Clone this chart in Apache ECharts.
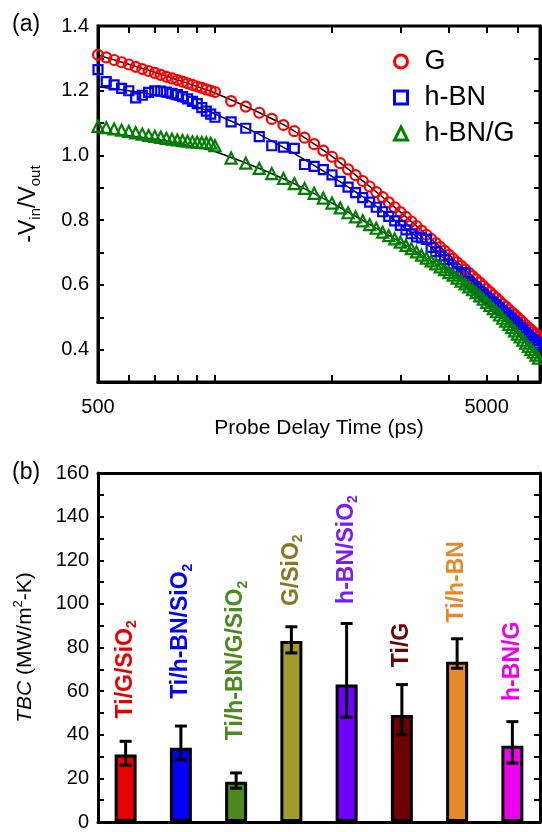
<!DOCTYPE html>
<html>
<head>
<meta charset="utf-8">
<script src="https://cdn.jsdelivr.net/npm/echarts@6/dist/echarts.min.js"></script>
<style>
  html, body { margin: 0; padding: 0; background: #fff; }
  #chart { width: 542px; height: 832px; }
</style>
</head>
<body>
<div id="chart"></div>
<script>
// ---------- Panel (a): -Vin/Vout against probe delay ----------
const probeTimes = [
  500, 525, 550, 575, 600, 625, 650, 675, 700, 725, 750, 775, 800, 825, 850, 875, 900, 925, 950, 975, 1000,
  1100, 1200, 1300, 1400, 1500, 1600, 1700, 1800, 1900, 2000,
  2100, 2200, 2300, 2400, 2500, 2600, 2700, 2800, 2900, 3000,
  3100, 3200, 3300, 3400, 3500, 3600, 3700, 3800, 3900, 4000,
  4100, 4200, 4300, 4400, 4500, 4600, 4700, 4800, 4900, 5000,
  5100, 5200, 5300, 5400, 5500, 5600, 5700, 5800, 5900, 6000,
  6100, 6200, 6300, 6400, 6500, 6600, 6700, 6800
];
const ratioG = [
  1.311, 1.303, 1.295, 1.288, 1.281, 1.274, 1.267, 1.261, 1.255, 1.249, 1.243, 1.238, 1.233, 1.228, 1.223, 1.218, 1.213, 1.209, 1.204, 1.200, 1.196,
  1.168, 1.151, 1.132, 1.113, 1.094, 1.075, 1.055, 1.035, 1.015, 0.996,
  0.976, 0.957, 0.939, 0.921, 0.904, 0.887, 0.871, 0.855, 0.840, 0.825,
  0.810, 0.796, 0.782, 0.768, 0.755, 0.742, 0.729, 0.717, 0.705, 0.693,
  0.681, 0.670, 0.659, 0.648, 0.637, 0.627, 0.617, 0.607, 0.597, 0.587,
  0.578, 0.568, 0.559, 0.550, 0.541, 0.533, 0.524, 0.516, 0.508, 0.500,
  0.492, 0.484, 0.476, 0.468, 0.461, 0.454, 0.447, 0.440
];
const ratioHBN = [
  1.265, 1.228, 1.218, 1.207, 1.200, 1.178, 1.186, 1.195, 1.200, 1.199, 1.196, 1.192, 1.188, 1.182, 1.175, 1.167, 1.160, 1.148, 1.137, 1.128, 1.118,
  1.104, 1.084, 1.058, 1.030, 1.026, 1.022, 0.972, 0.966, 0.956, 0.940,
  0.920, 0.902, 0.885, 0.870, 0.856, 0.840, 0.826, 0.812, 0.798, 0.784,
  0.770, 0.758, 0.748, 0.745, 0.741, 0.716, 0.703, 0.690, 0.678, 0.664,
  0.652, 0.641, 0.638, 0.636, 0.610, 0.600, 0.590, 0.580, 0.571, 0.562,
  0.553, 0.545, 0.537, 0.528, 0.520, 0.512, 0.503, 0.495, 0.486, 0.478,
  0.469, 0.461, 0.452, 0.444, 0.436, 0.428, 0.420, 0.412
];
const ratioHBNG = [
  1.090, 1.086, 1.082, 1.078, 1.074, 1.070, 1.066, 1.062, 1.059, 1.056, 1.053, 1.050, 1.048, 1.046, 1.044, 1.042, 1.041, 1.040, 1.039, 1.038, 1.030,
  0.992, 0.976, 0.960, 0.944, 0.929, 0.913, 0.898, 0.883, 0.868, 0.853,
  0.838, 0.823, 0.810, 0.798, 0.786, 0.775, 0.763, 0.752, 0.742, 0.732,
  0.722, 0.712, 0.702, 0.692, 0.683, 0.674, 0.665, 0.656, 0.647, 0.638,
  0.630, 0.621, 0.612, 0.603, 0.594, 0.585, 0.576, 0.566, 0.556, 0.546,
  0.537, 0.527, 0.517, 0.507, 0.497, 0.488, 0.478, 0.468, 0.458, 0.448,
  0.439, 0.429, 0.420, 0.410, 0.401, 0.392, 0.383, 0.374
];

// model curves
const fitTimes = [500, 600, 700, 800, 900, 1000, 1250, 1500, 1750, 2000, 2500, 3000, 3500, 4000, 4500, 5000, 5500, 6000, 6500, 6860];
const fitG    = [1.310, 1.282, 1.257, 1.234, 1.213, 1.193, 1.142, 1.095, 1.045, 0.997, 0.904, 0.825, 0.755, 0.693, 0.637, 0.587, 0.541, 0.500, 0.461, 0.437];
const fitHBN  = [1.212, 1.200, 1.187, 1.170, 1.150, 1.128, 1.075, 1.025, 0.978, 0.935, 0.858, 0.786, 0.727, 0.668, 0.617, 0.565, 0.521, 0.479, 0.437, 0.408];
const fitHBNG = [1.072, 1.061, 1.050, 1.038, 1.026, 1.012, 0.968, 0.928, 0.890, 0.853, 0.787, 0.732, 0.683, 0.638, 0.594, 0.546, 0.497, 0.448, 0.401, 0.368];

const delayTickValues  = [600, 700, 800, 900, 1000, 2000, 3000, 4000, 5000, 6000];
const delayLabelValues = [500, 5000];
const ratioMin = 0.3, ratioMax = 1.4;

// ---------- Panel (b): thermal boundary conductance ----------
const interfaces = ['Ti/G/SiO2', 'Ti/h-BN/SiO2', 'Ti/h-BN/G/SiO2', 'G/SiO2', 'h-BN/SiO2', 'Ti/G', 'Ti/h-BN', 'h-BN/G'];
const tbc     = [31, 34, 18.5, 83, 63, 49, 73.5, 35];
const tbcLow  = [26, 28.5, 15.5, 77.5, 48, 40, 70.5, 27];
const tbcHigh = [37, 44, 22.5, 89.5, 91, 63, 84, 46];
// TBC level at which each rotated name starts
const nameAnchor = [47.5, 56.5, 37.5, 99, 100, 71, 91.5, 55.5];

const barColors   = ['#e60000', '#0000ff', '#4b8a1f', '#a39b2b', '#7300ff', '#6e0000', '#e68a28', '#ee00ee'];
const labelColors = ['#e60000', '#0000ff', '#4b8a1f', '#807a22', '#7a1aff', '#6e0000', '#e68a28', '#ee00ee'];

const FONT = 'Liberation Sans, Arial, Helvetica, sans-serif';
// length of a delay-axis tick, in -Vin/Vout units (about 7 px)
const TICK_LEN = 0.022;
const pairs = (xs, ys) => xs.map((x, i) => [x, ys[i]]);

const chart = echarts.init(document.getElementById('chart'), null, { renderer: 'canvas' });

const frameLine = { show: true, onZero: false, lineStyle: { color: '#000', width: 3 } };
const tickStyle = { color: '#000', width: 2 };

// inward ticks of the logarithmic delay axis, as short segments at the bottom and top frame
const delayTickSegments = [];
delayTickValues.forEach(t => {
  delayTickSegments.push([{ coord: [t, ratioMin] }, { coord: [t, ratioMin + TICK_LEN] }]);
  delayTickSegments.push([{ coord: [t, ratioMax] }, { coord: [t, ratioMax - TICK_LEN] }]);
});

function fitSeries(name, ys, withTicks) {
  const s = {
    name: name, type: 'line', xAxisIndex: 0, yAxisIndex: 0,
    data: pairs(fitTimes, ys), showSymbol: false, smooth: 0.3,
    lineStyle: { color: '#000', width: 1.5 }, z: 2, silent: true
  };
  if (withTicks) {
    s.markLine = {
      silent: true, symbol: ['none', 'none'], animation: false,
      label: { show: false },
      lineStyle: { color: '#000', width: 2, type: 'solid' },
      emphasis: { disabled: true },
      data: delayTickSegments
    };
  }
  return s;
}
function markerSeries(name, ys, symbol, size, color) {
  return {
    name: name, type: 'scatter', xAxisIndex: 0, yAxisIndex: 0,
    data: pairs(probeTimes, ys), symbol: symbol, symbolSize: size,
    itemStyle: { color: 'rgba(255,255,255,0)', borderColor: color, borderWidth: 2.2, opacity: 1 },
    z: 3, silent: true
  };
}

const option = {
  animation: false,
  backgroundColor: '#fff',
  textStyle: { fontFamily: FONT },
  title: [
    { text: '(a)', left: 7, top: 8, textStyle: { fontFamily: FONT, fontSize: 23, fontWeight: 'normal', color: '#000' } },
    { text: '(b)', left: 7, top: 456, textStyle: { fontFamily: FONT, fontSize: 23, fontWeight: 'normal', color: '#000' } }
  ],
  legend: {
    left: 388, top: 43, orient: 'vertical',
    itemWidth: 13, itemHeight: 13, itemGap: 9,
    textStyle: { fontFamily: FONT, fontSize: 27, color: '#000', padding: [0, 0, 0, 12] },
    data: [
      { name: 'G', icon: 'circle', itemStyle: { color: 'rgba(255,255,255,0)', borderColor: '#ff0000', borderWidth: 3, opacity: 1 } },
      { name: 'h-BN', icon: 'rect', itemStyle: { color: 'rgba(255,255,255,0)', borderColor: '#0000ff', borderWidth: 3, opacity: 1 } },
      { name: 'h-BN/G', icon: 'triangle', itemStyle: { color: 'rgba(255,255,255,0)', borderColor: '#008000', borderWidth: 3, opacity: 1 } }
    ]
  },
  grid: [
    { left: 98, top: 26, width: 442, height: 356, show: true, borderColor: '#000', borderWidth: 3, backgroundColor: 'transparent' },
    { left: 98, top: 473, width: 442, height: 355 }
  ],
  xAxis: [
    {
      gridIndex: 0, type: 'log', logBase: 10, min: 500, max: 6860, position: 'bottom',
      axisLine: frameLine, axisTick: { show: false },
      axisLabel: { customValues: delayLabelValues, formatter: v => String(v), fontSize: 20, color: '#000', margin: 15, fontFamily: FONT },
      splitLine: { show: false },
      name: 'Probe Delay Time (ps)', nameLocation: 'middle', nameGap: 34,
      nameTextStyle: { fontSize: 21, color: '#000', fontFamily: FONT }
    },
    {
      gridIndex: 1, type: 'category', data: interfaces, position: 'bottom',
      axisLine: frameLine, axisTick: { show: false }, axisLabel: { show: false }, splitLine: { show: false }
    },
    {
      gridIndex: 1, type: 'category', data: interfaces, position: 'top',
      axisLine: frameLine, axisTick: { show: false }, axisLabel: { show: false }, splitLine: { show: false }
    }
  ],
  yAxis: [
    {
      gridIndex: 0, type: 'value', min: ratioMin, max: ratioMax, interval: 0.1, position: 'left',
      axisLine: frameLine,
      axisTick: { show: true, inside: true, length: 6, lineStyle: tickStyle },
      axisLabel: {
        fontSize: 20, color: '#000', margin: 9, fontFamily: FONT, showMaxLabel: true,
        formatter: v => (Math.round(v * 10) % 2 === 0 ? v.toFixed(1) : '')
      },
      splitLine: { show: false },
      name: '-V{sub|in}/V{sub|out}', nameLocation: 'middle', nameGap: 55,
      nameTextStyle: {
        fontSize: 23, color: '#000', fontFamily: FONT, lineHeight: 28,
        rich: { sub: { fontSize: 15, lineHeight: 14, verticalAlign: 'bottom', fontFamily: FONT, color: '#000' } }
      }
    },
    {
      gridIndex: 0, type: 'value', min: ratioMin, max: ratioMax, interval: 0.1, position: 'right',
      axisLine: frameLine,
      axisTick: { show: true, inside: true, length: 6, lineStyle: tickStyle },
      axisLabel: { show: false }, splitLine: { show: false }
    },
    {
      gridIndex: 1, type: 'value', min: 0, max: 160, interval: 10, position: 'left',
      axisLine: frameLine,
      axisTick: { show: true, inside: true, length: 6, lineStyle: tickStyle },
      axisLabel: {
        fontSize: 20, color: '#000', margin: 9, fontFamily: FONT, showMaxLabel: true,
        formatter: v => (v % 20 === 0 ? String(v) : '')
      },
      splitLine: { show: false },
      name: '{i|TBC} (MW/m{sup|2}-K)', nameLocation: 'middle', nameGap: 60,
      nameTextStyle: {
        fontSize: 21, color: '#000', fontFamily: FONT, lineHeight: 26,
        rich: {
          i: { fontStyle: 'italic', fontSize: 21, fontFamily: FONT, color: '#000' },
          sup: { fontSize: 13, lineHeight: 13, verticalAlign: 'top', fontFamily: FONT, color: '#000' }
        }
      }
    },
    {
      gridIndex: 1, type: 'value', min: 0, max: 160, interval: 10, position: 'right',
      axisLine: frameLine,
      axisTick: { show: true, inside: true, length: 6, lineStyle: tickStyle },
      axisLabel: { show: false }, splitLine: { show: false }
    }
  ],
  series: [
    fitSeries('G fit', fitG, true),
    fitSeries('h-BN fit', fitHBN, false),
    fitSeries('h-BN/G fit', fitHBNG, false),
    markerSeries('G', ratioG, 'circle', 10, '#ff0000'),
    markerSeries('h-BN', ratioHBN, 'rect', 9, '#0000ff'),
    markerSeries('h-BN/G', ratioHBNG, 'triangle', 11, '#008000'),
    {
      name: 'TBC', type: 'bar', xAxisIndex: 1, yAxisIndex: 2, barWidth: 22,
      data: tbc.map((v, i) => ({ value: v, itemStyle: { color: barColors[i] } })),
      itemStyle: { borderColor: '#000', borderWidth: 3 }, z: 2, silent: true
    },
    {
      name: 'TBC error', type: 'custom', xAxisIndex: 1, yAxisIndex: 2,
      data: interfaces.map((_, i) => [i, tbcLow[i], tbcHigh[i]]),
      encode: { x: 0, y: [1, 2] }, z: 4, silent: true,
      renderItem: function (params, api) {
        const c = api.value(0);
        const lo = api.coord([c, api.value(1)]);
        const hi = api.coord([c, api.value(2)]);
        const half = 6;
        const st = { stroke: '#000', lineWidth: 3 };
        return {
          type: 'group',
          children: [
            { type: 'line', shape: { x1: lo[0], y1: lo[1], x2: hi[0], y2: hi[1] }, style: st },
            { type: 'line', shape: { x1: lo[0] - half, y1: lo[1], x2: lo[0] + half, y2: lo[1] }, style: st },
            { type: 'line', shape: { x1: hi[0] - half, y1: hi[1], x2: hi[0] + half, y2: hi[1] }, style: st }
          ]
        };
      }
    },
    {
      name: 'interface names', type: 'scatter', xAxisIndex: 1, yAxisIndex: 2,
      symbolSize: 0, silent: true, z: 5,
      itemStyle: { opacity: 1 },
      data: interfaces.map((n, i) => ({ value: [i, nameAnchor[i]], label: { color: labelColors[i] } })),
      label: {
        show: true, position: 'inside', rotate: 90, align: 'left', verticalAlign: 'middle',
        fontFamily: FONT, fontSize: 23, fontWeight: 'bold', lineHeight: 28,
        textBorderWidth: 0, textBorderColor: 'transparent', opacity: 1,
        formatter: p => interfaces[p.dataIndex].replace('SiO2', 'SiO{s|2}'),
        rich: { s: { fontSize: 14, lineHeight: 14, verticalAlign: 'bottom', fontWeight: 'bold', fontFamily: FONT, textBorderWidth: 0 } }
      }
    }
  ]
};

chart.setOption(option);
</script>
</body>
</html>
